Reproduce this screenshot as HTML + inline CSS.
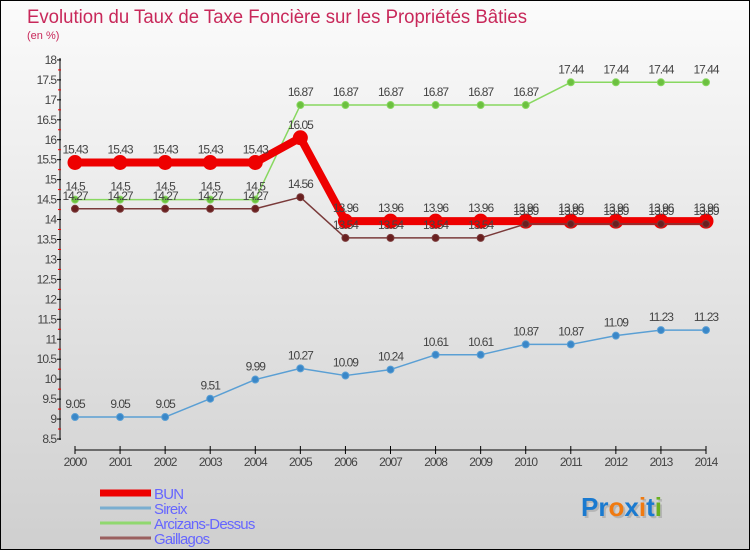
<!DOCTYPE html>
<html><head><meta charset="utf-8"><style>
body{margin:0;width:750px;height:550px;overflow:hidden;font-family:"Liberation Sans",sans-serif}
#wrap{position:absolute;left:0;top:0;width:748px;height:548px;border:1px solid #000;background:linear-gradient(#fbfbfb,#cfcfcf)}
</style></head><body>
<div id="wrap"></div>
<svg id="chart" width="750" height="550" style="position:absolute;left:0;top:0">
<text x="27" y="23" font-size="19" fill="#c8285a" font-family="Liberation Sans, sans-serif" textLength="500" lengthAdjust="spacingAndGlyphs">Evolution du Taux de Taxe Foncière sur les Propriétés Bâties</text>
<text x="27" y="39" font-size="11" fill="#c8285a">(en %)</text>
<g id="axes"></g><g id="series"></g><g id="legend"></g>
<g font-size="26" font-weight="bold" font-family="Liberation Sans, sans-serif">
<text x="583" y="518" fill="#999" opacity="0.5">Proxiti</text>
<text x="581" y="516"><tspan fill="#1a7ad0">Pr</tspan><tspan fill="#f07a10">o</tspan><tspan fill="#1a7ad0">x</tspan><tspan fill="#f07a10">i</tspan><tspan fill="#1a7ad0">t</tspan><tspan fill="#6ab020">i</tspan></text>
</g>
</svg>
<script>
const years=[2000,2001,2002,2003,2004,2005,2006,2007,2008,2009,2010,2011,2012,2013,2014];
const bun=[15.43,15.43,15.43,15.43,15.43,16.05,13.96,13.96,13.96,13.96,13.96,13.96,13.96,13.96,13.96];
const sireix=[9.05,9.05,9.05,9.51,9.99,10.27,10.09,10.24,10.61,10.61,10.87,10.87,11.09,11.23,11.23];
const arcizans=[14.5,14.5,14.5,14.5,14.5,16.87,16.87,16.87,16.87,16.87,16.87,17.44,17.44,17.44,17.44];
const gaillagos=[14.27,14.27,14.27,14.27,14.27,14.56,13.54,13.54,13.54,13.54,13.89,13.89,13.89,13.89,13.89];
const yTicks=[8.5,9,9.5,10,10.5,11,11.5,12,12.5,13,13.5,14,14.5,15,15.5,16,16.5,17,17.5,18];
const NS="http://www.w3.org/2000/svg";
const X=i=>75+i*(706-75)/(years.length-1);
const Y=v=>439-(v-8.5)*39.9;
function mk(t,a,p){const e=document.createElementNS(NS,t);for(const k in a)e.setAttribute(k,a[k]);p.appendChild(e);return e;}
const ax=document.getElementById('axes');
let l=mk('line',{x1:60,y1:Y(18)-2,x2:60,y2:Y(8.5)+1,stroke:'#000'},ax);


yTicks.forEach(v=>{
  mk('line',{x1:57,y1:Y(v),x2:61,y2:Y(v),stroke:'#000'},ax);
  if(v<18) mk('line',{x1:58,y1:Y(v+0.25),x2:61,y2:Y(v+0.25),stroke:'#e00'},ax);
  const t=mk('text',{x:56,y:Y(v)+4,'font-size':12,fill:'#444','text-anchor':'end','letter-spacing':'-1'},ax);
  t.textContent=v;
  
  
});
l=mk('line',{x1:75,y1:450,x2:706,y2:450,stroke:'#000'},ax);


years.forEach((y,i)=>{
  mk('line',{x1:X(i),y1:446,x2:X(i),y2:454,stroke:'#000'},ax);
  const t=mk('text',{x:X(i),y:466,'font-size':12,fill:'#444','text-anchor':'middle','letter-spacing':'-1'},ax);
  t.textContent=y;
  
  
});
const sg=document.getElementById('series');
function series(name,vals,color,w,r,dot){
  const g=mk('g',{},sg);
  
  
  mk('polyline',{points:vals.map((v,i)=>X(i)+','+Y(v)).join(' '),fill:'none',stroke:color,'stroke-width':w,'stroke-linejoin':'round'},g);
  vals.forEach((v,i)=>{
    const c=mk('circle',{cx:X(i),cy:Y(v),r:r,fill:dot,stroke:color,'stroke-width':1},g);
    
    
    const t=mk('text',{x:X(i),y:Y(v)-9,'font-size':12,fill:'#444','text-anchor':'middle','letter-spacing':'-1'},g);
    t.textContent=v;
    
    
  });
}
series('sireix',sireix,'#5a9fd4',1.5,3.5,'#3a87c8');
series('arcizans-dessus',arcizans,'#88d860',1.5,3.5,'#6cc040');
series('bun',bun,'#ee0000',8,7,'#ee0000');
series('gaillagos',gaillagos,'#7a3a3a',1.5,3.5,'#6a2020');
const lg=document.getElementById('legend');
[['BUN','#ee0000',7],['Sireix','#7aaed0',3],['Arcizans-Dessus','#90d870',3],['Gaillagos','#9a6060',3]].forEach((d,i)=>{
  const y=493+i*15;
  const g=mk('g',{},lg);
  
  
  mk('line',{x1:100,y1:y,x2:151,y2:y,stroke:d[1],'stroke-width':d[2]},g);
  const t=mk('text',{x:154,y:y+6,'font-size':15,fill:'#6666ff','letter-spacing':'-0.8'},g);
  t.textContent=d[0];
});
</script>
</body></html>
